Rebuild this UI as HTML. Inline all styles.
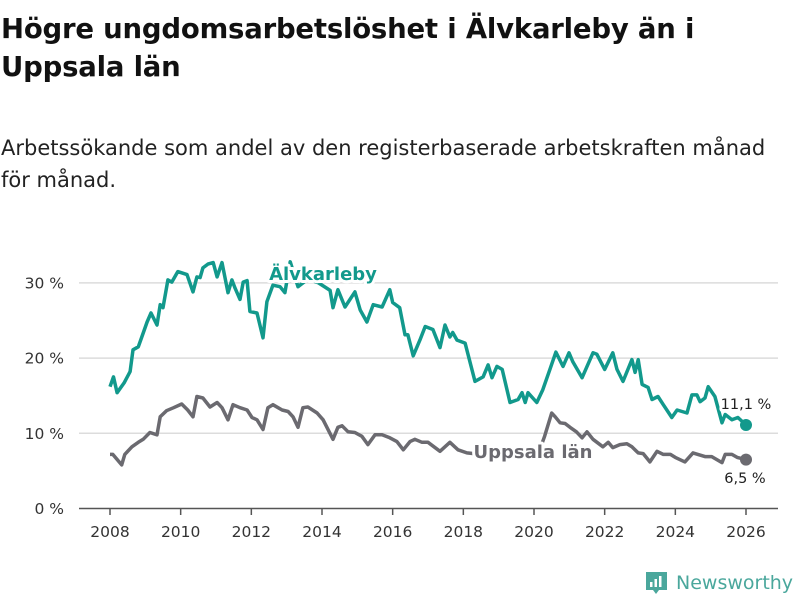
<!DOCTYPE html>
<html><head><meta charset="utf-8">
<style>
body{margin:0;background:#fff;width:800px;height:600px;overflow:hidden;font-family:"DejaVu Sans","Liberation Sans",sans-serif;}
#title{position:absolute;left:1px;top:10px;width:799px;font-size:27.5px;font-weight:bold;line-height:38px;color:#111;margin:0;white-space:nowrap;letter-spacing:-0.2px}
#sub{position:absolute;left:1px;top:132px;width:799px;font-size:21px;line-height:32px;color:#222;margin:0;white-space:nowrap}
svg{position:absolute;left:0;top:0;font-family:"DejaVu Sans","Liberation Sans",sans-serif}
</style></head><body>
<h1 id="title">Högre ungdomsarbetslöshet i Älvkarleby än i<br>Uppsala län</h1>
<p id="sub">Arbetssökande som andel av den registerbaserade arbetskraften månad<br>för månad.</p>
<svg id="chart" width="800" height="600"></svg>
<script>
const yTicks=[0,10,20,30];
const yTickLabels=["0 %","10 %","20 %","30 %"];
const xTicks=[2008,2010,2012,2014,2016,2018,2020,2022,2024,2026];
const alvDates=[2008.0,2008.1,2008.2,2008.4,2008.57,2008.65,2008.8,2008.9,2009.05,2009.16,2009.33,2009.42,2009.5,2009.64,2009.75,2009.92,2010.18,2010.35,2010.46,2010.55,2010.63,2010.77,2010.92,2011.03,2011.17,2011.34,2011.45,2011.54,2011.68,2011.77,2011.88,2011.96,2012.16,2012.33,2012.44,2012.61,2012.81,2012.95,2013.1,2013.32,2013.6,2013.9,2014.23,2014.31,2014.45,2014.65,2014.93,2015.08,2015.27,2015.45,2015.7,2015.92,2016.0,2016.2,2016.35,2016.43,2016.58,2016.77,2016.92,2017.14,2017.34,2017.48,2017.62,2017.7,2017.82,2018.05,2018.33,2018.56,2018.7,2018.81,2018.95,2019.1,2019.32,2019.55,2019.66,2019.75,2019.83,2020.08,2020.25,2020.45,2020.62,2020.82,2020.99,2021.1,2021.36,2021.67,2021.78,2022.0,2022.23,2022.35,2022.52,2022.77,2022.86,2022.95,2023.06,2023.23,2023.34,2023.51,2023.66,2023.9,2024.05,2024.33,2024.47,2024.61,2024.7,2024.84,2024.93,2025.12,2025.32,2025.41,2025.6,2025.77,2026.0];
const alvValues=[16.2,17.5,15.4,16.7,18.2,21.1,21.5,22.8,24.8,26,24.4,27.1,26.7,30.4,30.1,31.5,31.1,28.8,30.8,30.7,32,32.5,32.7,30.8,32.7,28.7,30.4,29.3,27.8,30.1,30.3,26.2,26,22.7,27.5,29.7,29.5,28.7,32.8,29.5,30.5,30,29,26.7,29.1,26.8,28.8,26.4,24.8,27.1,26.8,29.1,27.4,26.7,23.1,23.1,20.3,22.4,24.2,23.8,21.4,24.4,22.8,23.4,22.4,22,16.9,17.5,19.1,17.4,18.9,18.5,14.1,14.5,15.4,14.1,15.4,14.1,15.8,18.5,20.8,18.9,20.7,19.5,17.4,20.7,20.5,18.5,20.7,18.5,16.9,19.8,18.1,19.8,16.5,16.1,14.5,14.9,13.8,12.1,13.1,12.7,15.1,15.1,14.2,14.7,16.2,14.9,11.4,12.5,11.8,12.1,11.1];
const uppDates=[2008.0,2008.08,2008.33,2008.42,2008.62,2008.8,2008.94,2009.13,2009.33,2009.42,2009.6,2009.8,2010.03,2010.2,2010.35,2010.46,2010.63,2010.83,2011.03,2011.17,2011.34,2011.48,2011.68,2011.88,2012.02,2012.16,2012.33,2012.47,2012.61,2012.87,2013.04,2013.18,2013.32,2013.46,2013.6,2013.86,2014.03,2014.31,2014.45,2014.57,2014.74,2014.93,2015.13,2015.3,2015.5,2015.7,2015.92,2016.12,2016.3,2016.49,2016.63,2016.83,2017.0,2017.34,2017.62,2017.85,2018.1,2018.5,2018.9,2019.3,2019.7,2020.1,2020.3,2020.5,2020.6,2020.74,2020.88,2021.02,2021.2,2021.36,2021.5,2021.67,2021.95,2022.1,2022.23,2022.43,2022.63,2022.77,2022.95,2023.09,2023.28,2023.48,2023.66,2023.86,2024.0,2024.27,2024.5,2024.64,2024.84,2025.03,2025.32,2025.41,2025.6,2025.75,2026.0];
const uppValues=[7.2,7.2,5.8,7.2,8.2,8.8,9.2,10.1,9.8,12.2,13.0,13.4,13.9,13.1,12.2,14.9,14.7,13.5,14.1,13.4,11.8,13.8,13.4,13.1,12.1,11.8,10.5,13.4,13.8,13.1,12.9,12.2,10.8,13.4,13.5,12.7,11.8,9.2,10.8,11.0,10.2,10.1,9.6,8.5,9.8,9.8,9.4,8.9,7.8,8.9,9.2,8.8,8.8,7.6,8.8,7.8,7.4,7.2,6.9,7.0,6.8,7.0,9.6,12.7,12.2,11.4,11.3,10.8,10.2,9.4,10.2,9.2,8.2,8.8,8.1,8.5,8.6,8.2,7.4,7.3,6.2,7.6,7.2,7.2,6.8,6.2,7.4,7.2,6.9,6.9,6.1,7.2,7.2,6.8,6.5];

const NS='http://www.w3.org/2000/svg';
const svg=document.getElementById('chart');
const X0=79,X1=778;
function xs(y){return 110+(y-2008)*(746-110)/18;}
function ys(v){return 508.5-v*7.52;}
function mk(t,a,p){const e=document.createElementNS(NS,t);for(const k in a)e.setAttribute(k,a[k]);(p||svg).appendChild(e);return e;}

yTicks.forEach((t,i)=>{
  if(t>0){const g=mk('line',{x1:X0,x2:X1,y1:ys(t),y2:ys(t),stroke:'#dcdcdc','stroke-width':1.5});
  
  }
  const l=mk('text',{x:64,y:ys(t)+5.5,'text-anchor':'end','font-size':15.5,fill:'#333'});
  l.textContent=yTickLabels[i];
  
  
});
const ax=mk('line',{x1:X0,x2:X1,y1:508.5,y2:508.5,stroke:'#555','stroke-width':1.5});


xTicks.forEach(t=>{
  const tk=mk('line',{x1:xs(t),x2:xs(t),y1:508.5,y2:515,stroke:'#555','stroke-width':1.5});
  
  
  const l=mk('text',{x:xs(t),y:537,'text-anchor':'middle','font-size':15.5,fill:'#333'});
  l.textContent=t;
  
  
});
function series(d,v,c,name){
  const p=mk('path',{d:d.map((x,i)=>(i?'L':'M')+xs(x).toFixed(1)+','+ys(v[i]).toFixed(1)).join(''),fill:'none',stroke:c,'stroke-width':3.5,'stroke-linejoin':'round'});
  
  
  const n=d.length-1;
  const dot=mk('circle',{cx:xs(d[n]),cy:ys(v[n]),r:6,fill:c});
  
  
}
series(uppDates,uppValues,'#6b6a70','uppsala');
series(alvDates,alvValues,'#12998c','alvkarleby');
function label(x,y,txt,c,w,anchor,name,size){
  const t=mk('text',{x:x,y:y,'text-anchor':anchor,'font-size':size,'font-weight':w,fill:c,stroke:'#fff','stroke-width':6,'paint-order':'stroke','stroke-linejoin':'round'});
  t.textContent=txt;
  
  
}
label(323,280,'Älvkarleby','#12998c','bold','middle','series-label-alvkarleby',18);
label(533,458,'Uppsala län','#6b6a70','bold','middle','series-label-uppsala',18);
label(746,409,'11,1 %','#222','normal','middle','end-value-alvkarleby',14.5);
label(745,483,'6,5 %','#222','normal','middle','end-value-uppsala',14.5);

const lg=mk('g',{});


mk('path',{d:'M646,572 h21 v18 h-8 l-3,4 l-3,-4 h-7 z',fill:'#4aa79c'},lg);
mk('rect',{x:650,y:582,width:2.5,height:5,fill:'#fff'},lg);
mk('rect',{x:654.5,y:579,width:2.5,height:8,fill:'#fff'},lg);
mk('rect',{x:659,y:576,width:2.5,height:11,fill:'#fff'},lg);
const lt=mk('text',{x:676,y:589,'font-size':19,fill:'#4aa79c'},lg);
lt.textContent='Newsworthy';
</script>
</body></html>
